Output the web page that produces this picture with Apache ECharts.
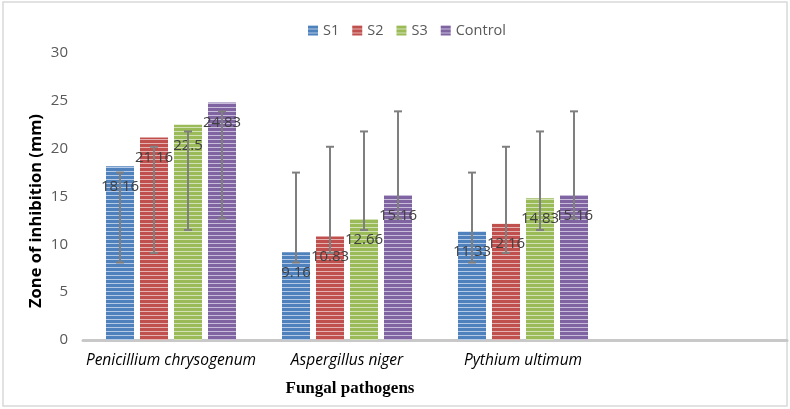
<!DOCTYPE html>
<html lang="en">
<head>
    <meta charset="UTF-8">
    <title>Zone of inhibition</title>
    <script src="https://cdn.jsdelivr.net/npm/echarts@6/dist/echarts.min.js"></script>
    <style>
        html, body { margin: 0; padding: 0; background: #fff; }
        #chart { width: 790px; height: 409px; }
    </style>
</head>
<body>
    <div id="chart"></div>
    <script>
        // Datos
        var categories = ['Penicillium chrysogenum', 'Aspergillus niger', 'Pythium ultimum', ''];
        var seriesNames = ['S1', 'S2', 'S3', 'Control'];
        var s1 = [18.16, 9.16, 11.33];
        var s2 = [21.16, 10.83, 12.16];
        var s3 = [22.5, 12.66, 14.83];
        var control = [24.83, 15.16, 15.16];
        // barras de error (minimo / maximo) tal como aparecen en la imagen
        var errLow = [8.1, 9.1, 11.5, 12.7];
        var errHigh = [17.5, 20.2, 21.8, 23.9];
        var yTicks = [0, 5, 10, 15, 20, 25, 30];

        var allValues = [s1, s2, s3, control];
        var baseColors = ['#4f81bd', '#c0504d', '#9bbb59', '#8064a2'];
        var lightColors = ['#b4c9e6', '#e4b3b1', '#d3e2b6', '#c8bcdb'];

        var barWidth = 28;
        var barGap = 6;

        // patron de rayas horizontales
        function stripes(base, light) {
            var c = document.createElement('canvas');
            c.width = 4;
            c.height = 4;
            var ctx = c.getContext('2d');
            ctx.fillStyle = base;
            ctx.fillRect(0, 0, 4, 4);
            ctx.fillStyle = light;
            ctx.fillRect(0, 3, 4, 1);
            return { image: c, repeat: 'repeat' };
        }

        var series = [];
        seriesNames.forEach(function (name, i) {
            series.push({
                name: name,
                type: 'bar',
                barWidth: barWidth,
                barGap: (barGap / barWidth * 100) + '%',
                data: allValues[i],
                itemStyle: { color: stripes(baseColors[i], lightColors[i]) },
                label: {
                    show: true,
                    position: 'insideTop',
                    distance: 13,
                    fontFamily: 'Open Sans',
                    fontSize: 15,
                    color: '#404040'
                }
            });
        });

        // barras de error con serie custom
        var errData = [];
        for (var c = 0; c < 3; c++) {
            for (var s = 0; s < 4; s++) {
                errData.push([c, errLow[s], errHigh[s], s]);
            }
        }
        series.push({
            type: 'custom',
            z: 10,
            data: errData,
            renderItem: function (params, api) {
                var si = api.value(3);
                var offset = (si - 1.5) * (barWidth + barGap);
                var lo = api.coord([api.value(0), api.value(1)]);
                var hi = api.coord([api.value(0), api.value(2)]);
                var x = lo[0] + offset;
                var cap = 4;
                var style = { stroke: '#7f7f7f', lineWidth: 2 };
                return {
                    type: 'group',
                    children: [
                        { type: 'line', shape: { x1: x, y1: hi[1], x2: x, y2: lo[1] }, style: style },
                        { type: 'line', shape: { x1: x - cap, y1: hi[1], x2: x + cap, y2: hi[1] }, style: style },
                        { type: 'line', shape: { x1: x - cap, y1: lo[1], x2: x + cap, y2: lo[1] }, style: style }
                    ]
                };
            }
        });

        var myChart = echarts.init(document.getElementById('chart'));

        var option = {
            animation: false,
            legend: {
                data: seriesNames,
                top: 18,
                left: 303,
                icon: 'rect',
                itemWidth: 10,
                itemHeight: 10,
                itemGap: 13,
                textStyle: { fontFamily: 'Open Sans', fontSize: 14.5, color: '#595959' }
            },
            grid: {
                left: 83,
                right: 3,
                top: 53,
                bottom: 69,
                outerBoundsMode: 'none'
            },
            xAxis: {
                type: 'category',
                data: categories,
                axisLine: { lineStyle: { color: '#c8c8c8', width: 3 } },
                axisTick: { show: false },
                axisLabel: {
                    interval: 0,
                    margin: 13,
                    fontFamily: 'Open Sans',
                    fontStyle: 'italic',
                    fontSize: 15.5,
                    color: '#000'
                }
            },
            yAxis: {
                type: 'value',
                min: yTicks[0],
                max: yTicks[yTicks.length - 1],
                interval: 5,
                axisLine: { show: false },
                axisTick: { show: false },
                splitLine: { show: false },
                axisLabel: {
                    margin: 15,
                    fontFamily: 'Open Sans',
                    fontSize: 15,
                    color: '#595959'
                }
            },
            graphic: [
                {
                    type: 'rect',
                    shape: { x: 3, y: 2, width: 784, height: 404 },
                    style: { fill: null, stroke: '#d9d9d9', lineWidth: 1.5 },
                    silent: true
                },
                {
                    type: 'text',
                    x: 36,
                    y: 211,
                    rotation: Math.PI / 2,
                    style: {
                        text: 'Zone of inhibition (mm)',
                        fontFamily: 'Open Sans',
                        fontWeight: 'bold',
                        fontSize: 16.5,
                        fill: '#000',
                        align: 'center',
                        verticalAlign: 'middle'
                    }
                },
                {
                    type: 'text',
                    x: 350,
                    y: 389,
                    style: {
                        text: 'Fungal pathogens',
                        fontFamily: 'Liberation Serif',
                        fontWeight: 'bold',
                        fontSize: 17,
                        fill: '#000',
                        align: 'center',
                        verticalAlign: 'middle'
                    }
                }
            ],
            series: series
        };

        myChart.setOption(option);
    </script>
</body>
</html>
